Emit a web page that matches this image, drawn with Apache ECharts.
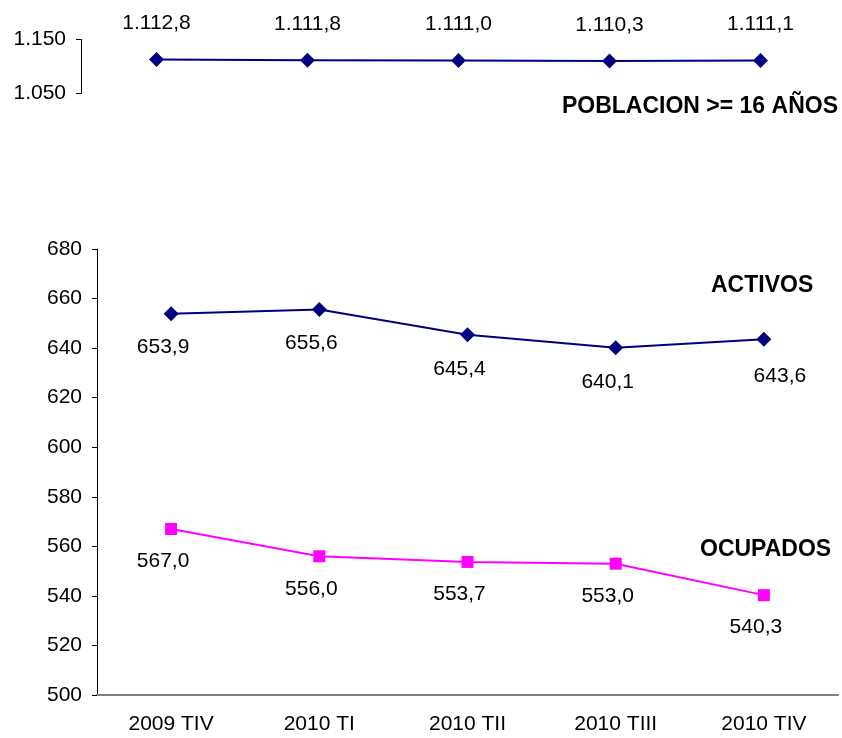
<!DOCTYPE html>
<html>
<head>
<meta charset="utf-8">
<script src="https://cdn.jsdelivr.net/npm/echarts@6/dist/echarts.min.js"></script>
<style>
  html, body { margin: 0; padding: 0; background: #fff; }
  #chart { width: 842px; height: 738px; }
</style>
</head>
<body>
<div id="chart"></div>
<script>
const categories = ['2009 TIV', '2010 TI', '2010 TII', '2010 TIII', '2010 TIV']
const poblacion = [1112.8, 1111.8, 1111.0, 1110.3, 1111.1]
const activos = [653.9, 655.6, 645.4, 640.1, 643.6]
const ocupados = [567.0, 556.0, 553.7, 553.0, 540.3]

const FONT = 'Arial, "Liberation Sans", sans-serif'

// 1.112,8 style numbers
function fmt(v, dec) {
    let s = v.toFixed(dec)
    let parts = s.split('.')
    let intPart = parts[0].replace(/\B(?=(\d{3})+(?!\d))/g, '.')
    return parts.length > 1 ? intPart + ',' + parts[1] : intPart
}

const bottomLabel = {
    show: true,
    position: 'bottom',
    distance: 16,
    offset: [-8, 0],
    color: '#000',
    fontFamily: FONT,
    fontSize: 21,
    formatter: p => fmt(p.value, 1)
}

const option = {
    animation: false,
    backgroundColor: '#fff',
    grid: [
        { left: 81, top: 39.5, width: 755, height: 54 },
        { left: 97, top: 249, width: 741, height: 446 }
    ],
    xAxis: [{
        gridIndex: 0,
        type: 'category',
        data: categories,
        show: false
    },
    {
        gridIndex: 1,
        type: 'category',
        data: categories,
        axisLine: { lineStyle: { color: '#808080', width: 2 } },
        axisTick: { length: 6, lineStyle: { color: '#808080', width: 1 } },
        axisLabel: { color: '#000', fontFamily: FONT, fontSize: 21, margin: 19 }
    }],
    yAxis: [{
        gridIndex: 0,
        type: 'value',
        min: 1050,
        max: 1150,
        interval: 100,
        axisLine: { show: true, lineStyle: { color: '#000', width: 1 } },
        axisTick: { show: true, length: 5, lineStyle: { color: '#000' } },
        splitLine: { show: false },
        axisLabel: { color: '#000', fontFamily: FONT, fontSize: 21, margin: 15, formatter: v => fmt(v, 0) }
    },
    {
        gridIndex: 1,
        type: 'value',
        min: 500,
        max: 680,
        interval: 20,
        axisLine: { show: true, lineStyle: { color: '#000', width: 1 } },
        axisTick: { show: true, length: 5, lineStyle: { color: '#000' } },
        splitLine: { show: false },
        axisLabel: { color: '#000', fontFamily: FONT, fontSize: 21, margin: 15 }
    }],
    series: [{
        name: 'POBLACION >= 16 AÑOS',
        type: 'line',
        xAxisIndex: 0,
        yAxisIndex: 0,
        data: poblacion,
        symbol: 'diamond',
        symbolSize: 15,
        lineStyle: { color: '#000080', width: 2 },
        itemStyle: { color: '#000080' },
        label: {
            show: true,
            position: 'top',
            distance: 18,
            color: '#000',
            fontFamily: FONT,
            fontSize: 21,
            formatter: p => fmt(p.value, 1)
        }
    },
    {
        name: 'ACTIVOS',
        type: 'line',
        xAxisIndex: 1,
        yAxisIndex: 1,
        data: activos.map((v, i) => i === activos.length - 1
            ? { value: v, label: { offset: [16, 3] } }
            : v),
        symbol: 'diamond',
        symbolSize: 15,
        lineStyle: { color: '#000080', width: 2 },
        itemStyle: { color: '#000080' },
        label: bottomLabel
    },
    {
        name: 'OCUPADOS',
        type: 'line',
        xAxisIndex: 1,
        yAxisIndex: 1,
        data: ocupados,
        symbol: 'rect',
        symbolSize: 12,
        lineStyle: { color: '#FF00FF', width: 2 },
        itemStyle: { color: '#FF00FF' },
        label: bottomLabel
    }],
    graphic: [{
        type: 'text',
        right: 4,
        top: 95,
        style: { text: 'POBLACION >= 16 AÑOS', font: 'bold 23px ' + FONT, fill: '#000' }
    },
    {
        type: 'text',
        left: 711,
        top: 274,
        style: { text: 'ACTIVOS', font: 'bold 23px ' + FONT, fill: '#000' }
    },
    {
        type: 'text',
        left: 700,
        top: 538,
        style: { text: 'OCUPADOS', font: 'bold 23px ' + FONT, fill: '#000' }
    }]
}

const chart = echarts.init(document.getElementById('chart'))
chart.setOption(option)
window.addEventListener('resize', () => {
    chart.resize()
})
</script>
</body>
</html>
